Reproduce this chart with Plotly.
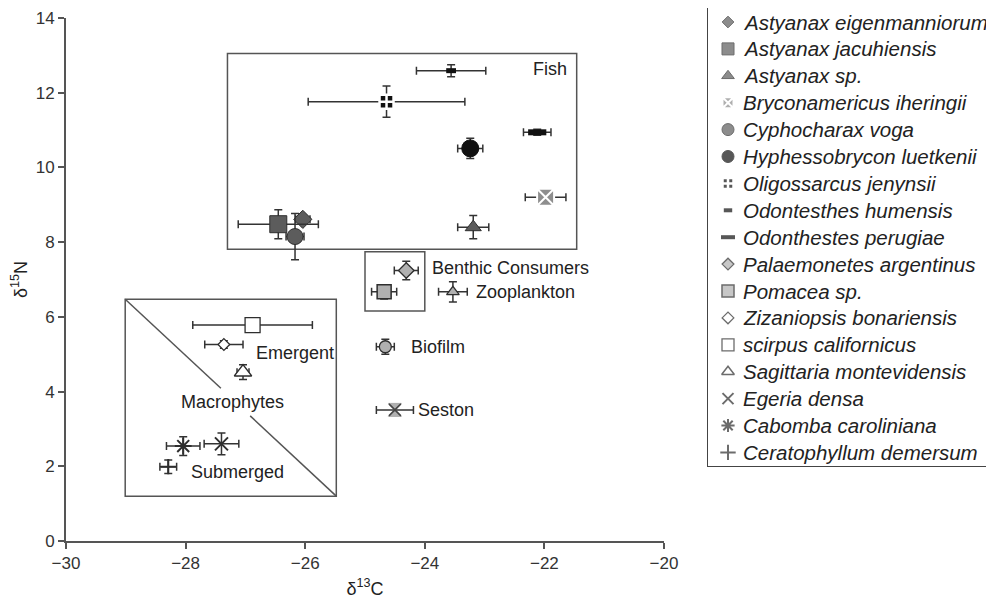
import plotly.graph_objects as go

# ---------------- data ----------------
species = ["Astyanax eigenmanniorum", "Astyanax jacuhiensis", "Astyanax sp.",
           "Bryconamericus iheringii", "Cyphocharax voga", "Hyphessobrycon luetkenii",
           "Oligossarcus jenynsii", "Odontesthes humensis", "Odonthestes perugiae",
           "Palaemonetes argentinus", "Pomacea sp.", "Zizaniopsis bonariensis",
           "scirpus californicus", "Sagittaria montevidensis", "Egeria densa",
           "Cabomba caroliniana", "Ceratophyllum demersum"]
d13c = [-26.04, -26.45, -23.19, -21.98, -26.17, -23.24, -24.64, -23.56, -22.12,
        -24.31, -24.68, -27.36, -26.88, -27.04, -27.40, -28.04, -28.29]
d15n = [8.61, 8.48, 8.40, 9.20, 8.15, 10.51, 11.76, 12.59, 10.94,
        7.24, 6.67, 5.26, 5.78, 4.52, 2.60, 2.54, 1.99]
sd_c = [0.12, 0.67, 0.26, 0.34, 0.15, 0.21, 1.31, 0.58, 0.23,
        0.20, 0.21, 0.32, 1.00, 0.10, 0.29, 0.28, 0.14]
sd_n = [0.10, 0.39, 0.31, 0.15, 0.62, 0.27, 0.42, 0.16, 0.08,
        0.25, 0.19, 0.10, 0.10, 0.20, 0.29, 0.25, 0.18]

sources = ["Zooplankton", "Biofilm", "Seston"]
src_d13c = [-23.53, -24.66, -24.50]
src_d15n = [6.67, 5.20, 3.51]
src_sd_c = [0.24, 0.15, 0.31]
src_sd_n = [0.27, 0.20, 0.15]

# ---------------- styles ----------------
DARK, LIGHT, OUT, WHITE = "#5c5c5c", "#b0b0b0", "#2e2e2e", "#ffffff"
style = {
    "Astyanax eigenmanniorum": dict(symbol="diamond", size=14, color=DARK, lc=OUT, lw=1, ls=9),
    "Astyanax jacuhiensis": dict(symbol="square", size=17, color=DARK, lc=OUT, lw=1, ls=12),
    "Astyanax sp.": dict(symbol="triangle-up", size=14, color=DARK, lc=OUT, lw=1, ls=11),
    "Bryconamericus iheringii": dict(symbol="square-x", size=17, color="#8e8e8e", lc=WHITE, lw=2, ls=11),
    "Cyphocharax voga": dict(symbol="circle", size=16, color=DARK, lc=OUT, lw=1, ls=12),
    "Hyphessobrycon luetkenii": dict(symbol="circle", size=17, color="#111111", lc="#111111", lw=1, ls=12),
    "Oligossarcus jenynsii": dict(symbol="square-cross", size=14, color="#111111", lc=WHITE, lw=2.5, ls=11),
    "Odontesthes humensis": dict(symbol="line-ew", size=7, color="#111111", lc="#111111", lw=5, ls=6),
    "Odonthestes perugiae": dict(symbol="line-ew", size=13, color="#111111", lc="#111111", lw=6, ls=10),
    "Palaemonetes argentinus": dict(symbol="diamond", size=12, color=LIGHT, lc=OUT, lw=1.3, ls=9),
    "Pomacea sp.": dict(symbol="square", size=14, color=LIGHT, lc=OUT, lw=1.5, ls=12),
    "Zizaniopsis bonariensis": dict(symbol="diamond", size=9, color=WHITE, lc=OUT, lw=1.3, ls=9),
    "scirpus californicus": dict(symbol="square", size=15, color=WHITE, lc=OUT, lw=1.3, ls=12),
    "Sagittaria montevidensis": dict(symbol="triangle-up", size=15, color=WHITE, lc=OUT, lw=1.5, ls=11),
    "Egeria densa": dict(symbol="x-thin", size=13, color=OUT, lc=OUT, lw=2, ls=11),
    "Cabomba caroliniana": dict(symbol="asterisk", size=14, color=OUT, lc=OUT, lw=2, ls=11),
    "Ceratophyllum demersum": dict(symbol="cross-thin", size=11, color=OUT, lc=OUT, lw=2, ls=11),
}
src_style = {
    "Zooplankton": dict(symbol="triangle-up", size=11, color=LIGHT, lc=OUT, lw=1.3),
    "Biofilm": dict(symbol="circle", size=12, color=LIGHT, lc=OUT, lw=1.3),
    "Seston": dict(symbol="hourglass", size=13, color=LIGHT, lc=LIGHT, lw=1),
}

ERR = dict(type="data", color="#333333", thickness=1.5, width=4)
FONT = "Liberation Sans, Arial, sans-serif"

fig = go.Figure()

def add_point(name, x, y, sx, sy, st):
    fig.add_trace(go.Scatter(
        x=[x], y=[y], mode="markers", name=name, showlegend=False,
        error_x=dict(ERR, array=[sx]), error_y=dict(ERR, array=[sy]),
        marker=dict(symbol=st["symbol"], size=st["size"], color=st["color"],
                    line=dict(color=st["lc"], width=st["lw"])),
        xaxis="x", yaxis="y"))

for i, n in enumerate(species):
    add_point(n, d13c[i], d15n[i], sd_c[i], sd_n[i], style[n])
for i, n in enumerate(sources):
    add_point(n, src_d13c[i], src_d15n[i], src_sd_c[i], src_sd_n[i], src_style[n])

# Seston: dark cross over the hourglass
k = sources.index("Seston")
fig.add_trace(go.Scatter(x=[src_d13c[k]], y=[src_d15n[k]], mode="markers", showlegend=False,
                         marker=dict(symbol="x-thin", size=12, line=dict(color="#444444", width=1.6)),
                         xaxis="x", yaxis="y"))

# ---------------- custom legend panel (second axis pair) ----------------
ROW0, ROWH = 14, 26.9
rows = [ROW0 + ROWH * i for i in range(len(species))]
fig.add_trace(go.Scatter(
    x=[20] * len(species), y=rows, mode="markers", showlegend=False, hoverinfo="skip",
    marker=dict(symbol=[style[n]["symbol"] for n in species],
                size=[style[n]["ls"] for n in species],
                color=[style[n]["color"] for n in species],
                line=dict(color=[style[n]["lc"] for n in species],
                          width=[min(style[n]["lw"], 4) for n in species])),
    xaxis="x2", yaxis="y2"))

annotations = []
for n, r in zip(species, rows):
    annotations.append(dict(x=33, y=r, xref="x2", yref="y2", text="<i>%s</i>" % n,
                            showarrow=False, xanchor="left", yanchor="middle",
                            font=dict(family=FONT, size=20.5, color="#222222")))

# ---------------- group labels ----------------
lab = dict(showarrow=False, xref="x", yref="y", yanchor="middle",
           font=dict(family=FONT, size=18, color="#222222"))
annotations += [
    dict(lab, x=-21.59, y=12.63, text="Fish", xanchor="right"),
    dict(lab, x=-23.91, y=7.32, text="Benthic Consumers", xanchor="left"),
    dict(lab, x=-23.18, y=6.67, text="Zooplankton", xanchor="left"),
    dict(lab, x=-26.85, y=5.04, text="Emergent", xanchor="left"),
    dict(lab, x=-24.26, y=5.20, text="Biofilm", xanchor="left"),
    dict(lab, x=-27.22, y=3.71, text="Macrophytes", xanchor="center"),
    dict(lab, x=-24.15, y=3.51, text="Seston", xanchor="left"),
    dict(lab, x=-27.94, y=1.84, text="Submerged", xanchor="left"),
]

box = dict(type="rect", xref="x", yref="y", line=dict(color="#555555", width=1.5),
           fillcolor="rgba(0,0,0,0)", layer="below")
seg = dict(type="line", xref="x", yref="y", line=dict(color="#555555", width=1.5))
shapes = [
    dict(box, x0=-27.30, x1=-21.46, y0=7.81, y1=13.05),
    dict(box, x0=-25.00, x1=-24.00, y0=6.16, y1=7.74),
    dict(box, x0=-29.01, x1=-25.48, y0=1.20, y1=6.47),
    dict(seg, x0=-29.01, y0=6.47, x1=-27.41, y1=4.09),
    dict(seg, x0=-26.92, y0=3.35, x1=-25.48, y1=1.20),
]

# page body has an 8px offset: layout pixel = reference pixel - 8
OFF = 8
W, H = 994, 607
L = 66 - OFF                  # y axis at reference x = 66
BOT = 541 - OFF               # x axis at reference y = 541
B = H - BOT
PW, PH = W - L, BOT
axis_common = dict(showline=True, linecolor="#555555", linewidth=2, ticks="outside",
                   ticklen=6, tickwidth=1.5, tickcolor="#555555", showgrid=False,
                   zeroline=False, tickfont=dict(family=FONT, size=17, color="#333333"),
                   dtick=2, automargin=False)
hidden = dict(showline=True, mirror=True, linecolor="#444444", linewidth=1.2,
              showticklabels=False, ticks="", showgrid=False, zeroline=False,
              automargin=False)
leg_top = 8 - OFF
leg_bot = 466 - OFF
fig.update_layout(
    width=W, height=H, margin=dict(l=L, r=0, t=0, b=B, autoexpand=False),
    paper_bgcolor="white", plot_bgcolor="white", showlegend=False,
    xaxis=dict(axis_common, range=[-30, -20], domain=[0, (664 - 66) / PW], anchor="y",
               title=dict(text="δ<sup>13</sup>C", standoff=10,
                          font=dict(family=FONT, size=18, color="#222222"))),
    yaxis=dict(axis_common, range=[0, 14], domain=[0, (541 - 18) / PH], anchor="x",
               title=dict(text="δ<sup>15</sup>N", standoff=14,
                          font=dict(family=FONT, size=18, color="#222222"))),
    xaxis2=dict(hidden, domain=[(708 - OFF - L) / PW, (993 - OFF - L) / PW],
                range=[0, 285], anchor="y2"),
    yaxis2=dict(hidden, domain=[(BOT - leg_bot) / PH, (BOT - leg_top) / PH],
                range=[leg_bot - leg_top, 0], anchor="x2"),
    annotations=annotations, shapes=shapes,
)

fig.write_html("out.html")
